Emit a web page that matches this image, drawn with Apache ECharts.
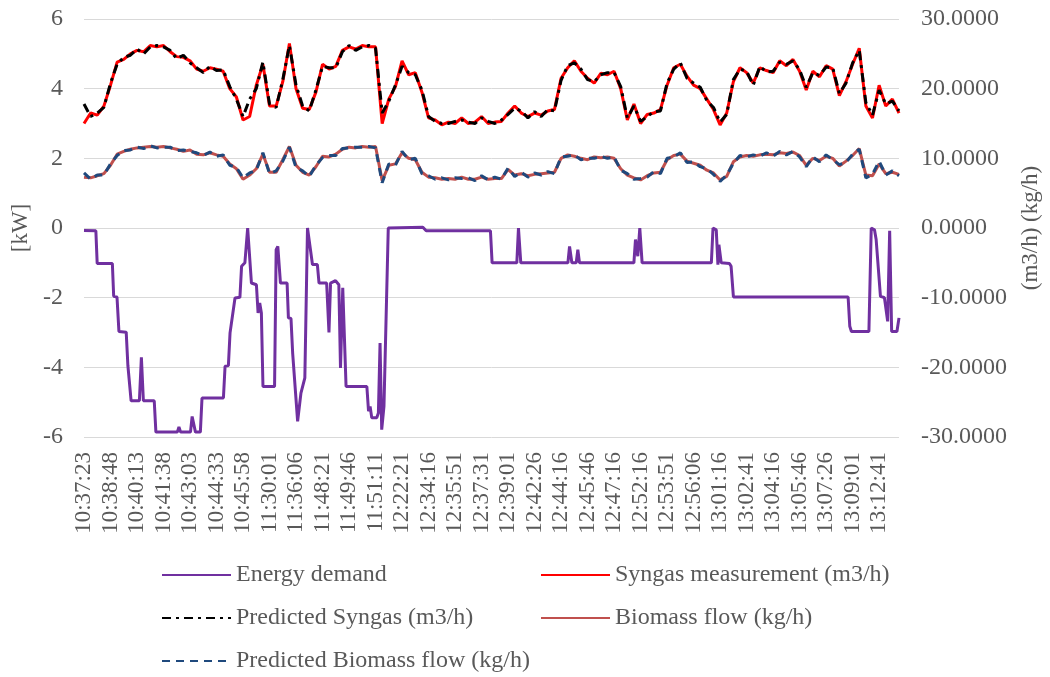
<!DOCTYPE html>
<html>
<head>
<meta charset="utf-8">
<script src="https://cdn.jsdelivr.net/npm/echarts@6/dist/echarts.min.js"></script>
<style>
html,body{margin:0;padding:0;background:#fff;}
#chart{width:1050px;height:677px;}
</style>
</head>
<body>
<div id="chart"></div>
<script>
var timeLabels = ['10:37:23','10:38:48','10:40:13','10:41:38','10:43:03','10:44:33','10:45:58','11:30:01','11:36:06','11:48:21','11:49:46','11:51:11','12:22:21','12:34:16','12:35:51','12:37:31','12:39:01','12:42:26','12:44:16','12:45:46','12:47:16','12:52:16','12:53:51','12:56:06','13:01:16','13:02:41','13:04:16','13:05:46','13:07:26','13:09:01','13:12:41'];
var samplesPerLabel = 4;
var lastIndex = 123;

var syngasMeas = [
15.0,16.5,16.2,17.5,20.5,23.8,24.2,25.0,25.5,25.3,
26.2,26.0,26.2,25.3,24.6,24.5,24.0,22.8,22.5,23.0,
22.8,22.5,20.0,18.8,15.5,16.0,20.5,23.5,17.5,17.5,
21.0,26.5,20.0,17.2,17.0,19.5,23.5,22.8,23.2,25.5,
26.0,25.7,26.2,26.0,26.0,15.0,18.5,20.3,24.0,22.0,
22.3,19.5,15.8,15.5,14.8,15.2,15.0,15.8,15.0,15.2,
16.0,15.0,15.2,15.3,16.5,17.5,16.5,16.0,16.5,16.2,
16.8,17.0,21.5,23.0,24.0,22.5,21.5,20.8,22.2,22.0,
22.5,20.0,15.5,17.8,15.0,16.3,16.5,17.0,20.5,23.0,
23.5,21.8,20.5,20.0,18.5,17.0,14.8,16.5,21.0,23.0,
22.3,20.8,23.0,22.6,22.3,24.0,23.3,24.2,22.5,19.8,
22.5,21.7,23.3,22.8,19.0,21.0,23.5,25.8,17.5,15.8,
20.5,17.5,18.5,16.5
];
var syngasPred = [
17.8,16.0,16.5,17.3,20.8,23.5,24.5,24.8,25.7,25.0,
26.0,26.2,26.0,25.5,24.3,24.8,23.7,23.0,22.3,23.2,
22.6,22.7,20.3,18.5,16.0,18.5,20.0,23.8,17.8,17.3,
21.3,26.2,20.5,17.5,16.8,19.8,23.2,23.0,23.0,25.3,
26.2,25.5,26.0,26.2,25.8,16.5,18.2,20.5,23.2,22.3,
22.0,19.8,16.0,15.3,15.0,15.0,15.3,15.5,15.2,15.0,
15.8,15.3,15.0,15.5,16.3,17.2,16.8,15.8,16.7,16.0,
17.0,16.8,21.2,23.3,23.7,22.8,21.3,21.0,22.0,22.3,
22.3,20.3,15.8,17.5,15.3,16.0,16.7,16.8,20.8,22.8,
23.7,21.5,20.8,20.2,18.3,17.3,15.2,16.3,21.3,22.8,
22.5,20.5,23.2,22.4,22.5,23.8,23.5,24.0,22.7,20.2,
22.3,21.9,23.1,23.0,19.3,20.8,23.7,25.5,18.0,16.2,
19.8,17.8,18.2,16.8
];
var biomass = [
7.3,7.2,7.5,7.8,9.0,10.6,11.0,11.3,11.5,11.6,
11.7,11.6,11.7,11.5,11.3,11.0,11.2,10.6,10.5,10.8,
10.5,10.3,9.2,8.5,7.0,7.6,8.5,10.6,8.0,8.0,
9.8,11.7,9.0,8.0,7.6,8.8,10.3,10.2,10.6,11.3,
11.6,11.5,11.7,11.6,11.7,6.8,9.0,9.2,10.8,10.0,
9.8,8.0,7.3,7.2,7.0,7.1,7.0,7.3,7.0,7.0,
7.3,7.0,7.1,7.1,8.4,7.6,7.8,7.5,7.7,7.8,
7.9,8.0,10.0,10.5,10.3,10.0,9.8,10.2,10.1,10.2,
10.0,8.5,7.6,7.2,6.9,7.5,7.9,8.0,9.8,10.4,
10.6,9.6,9.3,9.0,8.3,7.9,6.9,7.4,9.5,10.2,
10.4,10.3,10.5,10.6,10.5,10.8,10.7,10.9,10.4,9.0,
10.0,9.7,10.3,10.0,8.9,9.6,10.4,11.4,7.6,7.5,
9.2,7.8,8.0,7.7
];
var biomassPred = [
7.9,7.0,7.6,7.6,9.2,10.4,11.1,11.2,11.6,11.4,
11.8,11.5,11.6,11.6,11.1,11.2,11.0,10.8,10.4,10.9,
10.3,10.5,9.0,8.7,7.2,7.9,8.3,10.8,7.8,8.2,
9.6,11.6,8.7,8.2,7.4,9.0,10.1,10.4,10.4,11.4,
11.5,11.6,11.6,11.7,11.5,6.5,9.2,9.0,11.0,9.8,
10.0,7.8,7.5,7.0,7.2,6.9,7.2,7.1,7.2,6.8,
7.5,6.9,7.3,7.0,8.6,7.4,8.0,7.3,7.9,7.6,
8.1,7.8,10.2,10.3,10.5,9.8,10.0,10.0,10.3,10.0,
10.2,8.3,7.8,7.0,7.1,7.3,8.1,7.8,10.0,10.2,
10.8,9.4,9.5,8.8,8.5,7.7,6.7,7.6,9.3,10.4,
10.2,10.5,10.3,10.8,10.3,11.0,10.5,11.0,10.2,8.8,
10.2,9.5,10.5,9.8,9.1,9.4,10.6,11.3,7.2,7.7,
9.6,7.6,8.2,7.5
];
var energyX = [0,1.79,1.99,4.28,4.48,4.98,5.27,6.37,6.62,6.87,7.11,8.36,8.66,8.96,10.6,10.85,14.08,14.33,14.58,16.07,16.32,16.57,16.82,17.56,17.81,21.04,21.29,21.79,22.04,22.29,22.79,23.53,23.78,24.28,24.7,25.27,26.02,26.27,26.52,26.77,27.01,28.76,29.0,29.25,29.65,30.65,30.85,31.24,31.49,31.74,32.24,32.74,32.99,33.33,33.73,33.98,34.48,35.22,35.47,36.62,36.97,37.21,37.96,38.46,38.71,39.05,39.2,39.55,42.69,42.94,43.18,43.43,44.18,44.43,44.68,44.93,45.27,45.92,51.14,51.64,61.34,61.59,65.32,65.57,65.92,73.03,73.28,73.63,74.28,74.53,74.78,82.99,83.23,83.58,83.88,84.23,94.68,94.93,95.42,95.67,95.82,96.17,97.41,97.66,98.01,115.32,115.57,115.82,118.46,118.81,119.3,119.55,120.2,120.8,121.29,121.59,121.89,122.69,123.0];
var energyY = [-0.07,-0.08,-1.02,-1.02,-1.96,-1.98,-2.97,-2.99,-3.94,-3.97,-4.96,-4.96,-3.71,-4.96,-4.96,-5.86,-5.86,-5.71,-5.86,-5.86,-5.41,-5.43,-5.86,-5.86,-4.88,-4.88,-3.97,-3.95,-3.01,-2.97,-2.01,-1.99,-1.10,-1.0,0,-1.58,-1.63,-2.44,-2.15,-2.44,-4.55,-4.55,-0.62,-0.53,-1.58,-1.58,-2.58,-2.6,-3.59,-3.61,-5.55,-4.74,-4.69,-4.3,0,0,-1.05,-1.05,-1.58,-1.58,-3.0,-1.58,-1.51,-1.63,-4.02,-1.72,-1.72,-4.55,-4.55,-5.26,-5.12,-5.45,-5.45,-5.31,-3.3,-5.79,-5.12,0,0.02,-0.08,-0.08,-1.0,-1.0,0,-1.0,-1.0,-0.53,-1.0,-1.0,-0.62,-1.0,-1.0,-0.33,-0.81,0,-1.0,-1.0,0,-0.05,-1.05,-0.48,-1.0,-1.02,-1.10,-1.98,-1.98,-2.82,-2.97,-2.97,0,-0.05,-0.33,-1.96,-2.0,-2.68,-0.08,-2.97,-2.97,-2.58];

function idxPairs(arr){ return arr.map(function(v,i){ return [i, v]; }); }
var energyPairs = energyX.map(function(x,i){ return [x, energyY[i]]; });

var FONT = 'Liberation Serif';
var GRAY = '#595959';
var legendCommon = {
  orient: 'vertical', top: 563, padding: 0,
  itemWidth: 69, itemHeight: 14, itemGap: 19,
  itemStyle: {opacity: 0},
  textStyle: {fontFamily: FONT, fontSize: 24, color: GRAY, lineHeight: 24}
};
var chart = echarts.init(document.getElementById('chart'));
chart.setOption({
  animation: false,
  backgroundColor: '#fff',
  textStyle: {fontFamily: FONT},
  grid: {left: 84, right: 142, top: 19, bottom: 240, containLabel: false},
  legend: [
    Object.assign({}, legendCommon, {left: 161, data: ['Energy demand', 'Predicted Syngas (m3/h)', 'Predicted Biomass flow (kg/h)']}),
    Object.assign({}, legendCommon, {left: 540, data: ['Syngas measurement (m3/h)', 'Biomass flow (kg/h)']})
  ],
  xAxis: {
    type: 'value', min: 0, max: lastIndex, interval: samplesPerLabel,
    axisLine: {show: false}, axisTick: {show: false}, splitLine: {show: false},
    axisLabel: {
      rotate: 90, margin: 15, fontSize: 23, color: GRAY, fontFamily: FONT,
      formatter: function(v){ return (v % samplesPerLabel === 0 && timeLabels[v / samplesPerLabel]) ? timeLabels[v / samplesPerLabel] : ''; }
    }
  },
  yAxis: [{
    type: 'value', min: -6, max: 6, interval: 2, position: 'left',
    name: '[kW]', nameLocation: 'middle', nameGap: 50,
    nameTextStyle: {fontSize: 23, color: GRAY, fontFamily: FONT},
    axisLine: {show: false}, axisTick: {show: false},
    axisLabel: {fontSize: 24, color: GRAY, margin: 21, fontFamily: FONT},
    splitLine: {show: true, lineStyle: {color: '#d9d9d9', width: 1}}
  }, {
    type: 'value', min: -30, max: 30, interval: 10, position: 'right',
    name: '(m3/h) (kg/h)', nameLocation: 'middle', nameGap: 120,
    nameTextStyle: {fontSize: 23, color: GRAY, fontFamily: FONT},
    axisLine: {show: false}, axisTick: {show: false},
    axisLabel: {fontSize: 24, color: GRAY, margin: 22, fontFamily: FONT,
      formatter: function(v){ return v.toFixed(4); }},
    splitLine: {show: false}
  }],
  series: [{
    name: 'Energy demand', type: 'line', yAxisIndex: 0, data: energyPairs,
    symbol: 'none', lineStyle: {color: '#7030A0', width: 3}, itemStyle: {color: '#7030A0'}
  }, {
    name: 'Syngas measurement (m3/h)', type: 'line', yAxisIndex: 1, data: idxPairs(syngasMeas),
    symbol: 'none', lineStyle: {color: '#FF0000', width: 3}, itemStyle: {color: '#FF0000'}
  }, {
    name: 'Predicted Syngas (m3/h)', type: 'line', yAxisIndex: 1, data: idxPairs(syngasPred),
    symbol: 'none', lineStyle: {color: '#000000', width: 3, type: [9, 5, 3, 5]}, itemStyle: {color: '#000000'}
  }, {
    name: 'Biomass flow (kg/h)', type: 'line', yAxisIndex: 1, data: idxPairs(biomass),
    symbol: 'none', lineStyle: {color: '#C0504D', width: 3}, itemStyle: {color: '#C0504D'}
  }, {
    name: 'Predicted Biomass flow (kg/h)', type: 'line', yAxisIndex: 1, data: idxPairs(biomassPred),
    symbol: 'none', lineStyle: {color: '#1F497D', width: 3, type: [8, 6]}, itemStyle: {color: '#1F497D'}
  }]
});
</script>
</body>
</html>
